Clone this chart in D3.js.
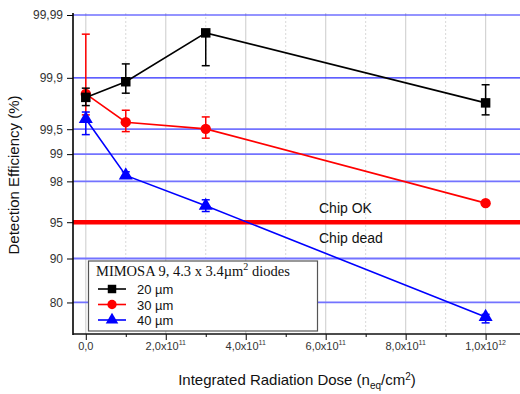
<html>
<head>
<meta charset="utf-8">
<title>Detection Efficiency</title>
<style>
  body { margin: 0; background: #fff; }
</style>
<script src="https://d3js.org/d3.v7.min.js"></script>
</head>
<body>
<svg width="520" height="394" font-family="Liberation Sans, Arial, sans-serif"></svg>
<script>
// data (efficiency in %)
var dose = [0, 1e11, 3e11, 1e12];
var eff20 = [99.81, 99.886, 99.980, 99.774];
var lo20 = [99.754, 99.834, 99.934, 99.673];
var hi20 = [99.859, 99.938, 99.980, 99.874];
var eff30 = [99.83, 99.593, 99.505, 96.68];
var lo30 = [99.673, 99.464, 99.354, 96.55];
var hi30 = [99.979, 99.716, 99.652, 96.80];
var eff40 = [99.63, 98.27, 96.48, 75.7];
var lo40 = [99.416, 98.17, 96.01, 73.8];
var hi40 = [99.70, 98.42, 96.92, 76.5];
var seriesNames = ["20 µm", "30 µm", "40 µm"];
var yTicks = [99.99, 99.9, 99.5, 99, 98, 95, 90, 80];
var yTickLabels = ["99,99", "99,9", "99,5", "99", "98", "95", "90", "80"];
var xTicks = [0, 2e11, 4e11, 6e11, 8e11, 1e12];
var xTickMant = ["0,0", "2,0x10", "4,0x10", "6,0x10", "8,0x10", "1,0x10"];
var xTickExp = ["", "11", "11", "11", "11", "12"];

// inverse normal cdf (Acklam)
function probit(p) {
  var a = [-3.969683028665376e+01, 2.209460984245205e+02, -2.759285104469687e+02, 1.383577518672690e+02, -3.066479806614716e+01, 2.506628277459239e+00];
  var b = [-5.447609879822406e+01, 1.615858368580409e+02, -1.556989798598866e+02, 6.680131188771972e+01, -1.328068155288572e+01];
  var c = [-7.784894002430293e-03, -3.223964580411365e-01, -2.400758277161838e+00, -2.549732539343734e+00, 4.374664141464968e+00, 2.938163982698783e+00];
  var d = [7.784695709041462e-03, 3.224671290700398e-01, 2.445134137142996e+00, 3.754408661907416e+00];
  var q, r;
  if (p < 0.02425) {
    q = Math.sqrt(-2 * Math.log(p));
    return (((((c[0]*q+c[1])*q+c[2])*q+c[3])*q+c[4])*q+c[5]) / ((((d[0]*q+d[1])*q+d[2])*q+d[3])*q+1);
  } else if (p > 1 - 0.02425) {
    q = Math.sqrt(-2 * Math.log(1 - p));
    return -(((((c[0]*q+c[1])*q+c[2])*q+c[3])*q+c[4])*q+c[5]) / ((((d[0]*q+d[1])*q+d[2])*q+d[3])*q+1);
  }
  q = p - 0.5; r = q * q;
  return (((((a[0]*r+a[1])*r+a[2])*r+a[3])*r+a[4])*r+a[5])*q / (((((b[0]*r+b[1])*r+b[2])*r+b[3])*r+b[4])*r+1);
}
var pr = v => probit(v / 100);

var svg = d3.select("svg");
var pLeft = 73, pRight = 520, pTop = 15, pBottom = 334;

var x = d3.scaleLinear().domain([-0.032e12, 1.086e12]).range([pLeft, pRight]);
var yLin = d3.scaleLinear().domain([pr(70.05), pr(99.99)]).range([pBottom, pTop]);
var y = v => yLin(pr(v));

// vertical grid
var g = svg.append("g");
g.selectAll(".vmin").data(d3.range(1e11, 1.1e12, 2e11)).enter().append("line")
  .attr("x1", d => x(d)).attr("x2", d => x(d)).attr("y1", pTop - 2).attr("y2", pBottom)
  .attr("stroke", "#d8d8d8").attr("stroke-dasharray", "2,2");
g.selectAll(".vmaj").data(xTicks).enter().append("line")
  .attr("x1", d => x(d)).attr("x2", d => x(d)).attr("y1", pTop - 2).attr("y2", pBottom)
  .attr("stroke", "#d4d4d4").attr("stroke-width", 1.2);

// horizontal grid
g.selectAll(".hg").data(yTicks.filter(v => v != 95)).enter().append("line")
  .attr("x1", pLeft).attr("x2", pRight).attr("y1", d => y(d)).attr("y2", d => y(d))
  .attr("stroke", (d, i) => i < 2 ? "#2a2aff" : "#7373ff").attr("stroke-width", (d, i) => i < 2 ? 1.2 : 1.8);

// threshold
g.append("line").attr("x1", pLeft).attr("x2", pRight).attr("y1", y(95)).attr("y2", y(95))
  .attr("stroke", "#ff0000").attr("stroke-width", 4.5);
svg.append("text").attr("x", 319).attr("y", 213).attr("font-size", 14).attr("fill", "#111").text("Chip OK");
svg.append("text").attr("x", 319).attr("y", 243).attr("font-size", 14).attr("fill", "#111").text("Chip dead");

// series
var series = [
  {name: seriesNames[0], eff: eff20, lo: lo20, hi: hi20, color: "#000000", sym: d3.symbolSquare, size: 90},
  {name: seriesNames[1], eff: eff30, lo: lo30, hi: hi30, color: "#ff0000", sym: d3.symbolCircle, size: 85},
  {name: seriesNames[2], eff: eff40, lo: lo40, hi: hi40, color: "#0000ff", sym: d3.symbolTriangle, size: 85}
];
var line = d3.line().x(d => x(d.x)).y(d => y(d.v));

[1, 2, 0].forEach(function(k) {
  var s = series[k];
  var pts = dose.map((d, i) => ({x: d, v: s.eff[i], lo: s.lo[i], hi: s.hi[i]}));
  var sg = svg.append("g");
  sg.append("path").datum(pts).attr("d", line).attr("fill", "none")
    .attr("stroke", s.color).attr("stroke-width", 1.6);
  var eb = sg.selectAll(".eb").data(pts).enter().append("g");
  eb.append("line").attr("x1", d => x(d.x)).attr("x2", d => x(d.x))
    .attr("y1", d => y(d.lo)).attr("y2", d => y(d.hi)).attr("stroke", s.color).attr("stroke-width", 1.5);
  eb.append("line").attr("x1", d => x(d.x) - 4).attr("x2", d => x(d.x) + 4)
    .attr("y1", d => y(d.lo)).attr("y2", d => y(d.lo)).attr("stroke", s.color).attr("stroke-width", 1.5);
  eb.append("line").attr("x1", d => x(d.x) - 4).attr("x2", d => x(d.x) + 4)
    .attr("y1", d => y(d.hi)).attr("y2", d => y(d.hi)).attr("stroke", s.color).attr("stroke-width", 1.5);
  sg.selectAll(".pt").data(pts).enter().append("path")
    .attr("d", d3.symbol().type(s.sym).size(s.size))
    .attr("transform", d => "translate(" + x(d.x) + "," + y(d.v) + ")")
    .attr("fill", s.color);
});

// axes
var yAxis = svg.append("g").attr("transform", "translate(" + pLeft + ",0)")
  .call(d3.axisLeft(yLin).tickValues(yTicks.map(pr)).tickFormat((d, i) => yTickLabels[i]).tickSize(6).tickPadding(4));
yAxis.select(".domain").remove();
yAxis.selectAll("text").attr("font-size", 12).attr("fill", "#333").attr("font-family", "Liberation Sans, Arial, sans-serif");
svg.append("line").attr("x1", pLeft).attr("x2", pLeft).attr("y1", pTop - 2).attr("y2", pBottom + 1)
  .attr("stroke", "#000").attr("stroke-width", 1.6);

var xAxis = svg.append("g").attr("transform", "translate(0," + pBottom + ")")
  .call(d3.axisBottom(x).tickValues(xTicks).tickFormat("").tickSize(6));
xAxis.select(".domain").remove();
svg.append("g").attr("transform", "translate(0," + pBottom + ")")
  .call(d3.axisBottom(x).tickValues(d3.range(1e11, 1.1e12, 2e11)).tickFormat("").tickSize(3))
  .select(".domain").remove();
svg.append("line").attr("x1", pLeft).attr("x2", pRight).attr("y1", pBottom).attr("y2", pBottom)
  .attr("stroke", "#111").attr("stroke-width", 1.6);

var xl = svg.append("g").selectAll("text").data(xTicks).enter().append("text")
  .attr("x", d => x(d)).attr("y", 350).attr("text-anchor", "middle")
  .attr("font-size", 11).attr("fill", "#333");
xl.append("tspan").text((d, i) => xTickMant[i]);
xl.append("tspan").attr("dy", -5).attr("font-size", 7).text((d, i) => xTickExp[i]);

// axis titles
var xt = svg.append("text").attr("x", 297).attr("y", 385).attr("text-anchor", "middle")
  .attr("font-size", 15).attr("fill", "#111");
xt.append("tspan").text("Integrated Radiation Dose (n");
xt.append("tspan").attr("dy", 4).attr("font-size", 10).text("eq");
xt.append("tspan").attr("dy", -4).text("/cm");
xt.append("tspan").attr("dy", -5).attr("font-size", 10).text("2");
xt.append("tspan").attr("dy", 5).text(")");

svg.append("text").attr("transform", "translate(19,175) rotate(-90)").attr("text-anchor", "middle")
  .attr("font-size", 15).attr("fill", "#111").text("Detection Efficiency (%)");

// legend
var lg = svg.append("g");
lg.append("rect").attr("x", 88.5).attr("y", 261).attr("width", 229).attr("height", 70)
  .attr("fill", "#fff").attr("stroke", "#555").attr("stroke-width", 1.2);
var lt = lg.append("text").attr("x", 96).attr("y", 276).attr("font-size", 14.5)
  .attr("font-family", "Liberation Serif, Times New Roman, serif").attr("fill", "#111");
lt.append("tspan").text("MIMOSA 9, 4.3 x 3.4µm");
lt.append("tspan").attr("dy", -6).attr("font-size", 10).text("2");
lt.append("tspan").attr("dy", 6).text(" diodes");
var li = lg.selectAll(".li").data(series).enter().append("g")
  .attr("transform", (d, i) => "translate(0," + (289 + i * 15.5) + ")");
li.append("line").attr("x1", 98).attr("x2", 126).attr("stroke", d => d.color).attr("stroke-width", 1.6);
li.append("path").attr("d", d => d3.symbol().type(d.sym).size(d.size * 0.8)())
  .attr("transform", "translate(112,0)").attr("fill", d => d.color);
li.append("text").attr("x", 137).attr("y", 5).attr("font-size", 13).attr("fill", "#111").text(d => d.name);
</script>
</body>
</html>
